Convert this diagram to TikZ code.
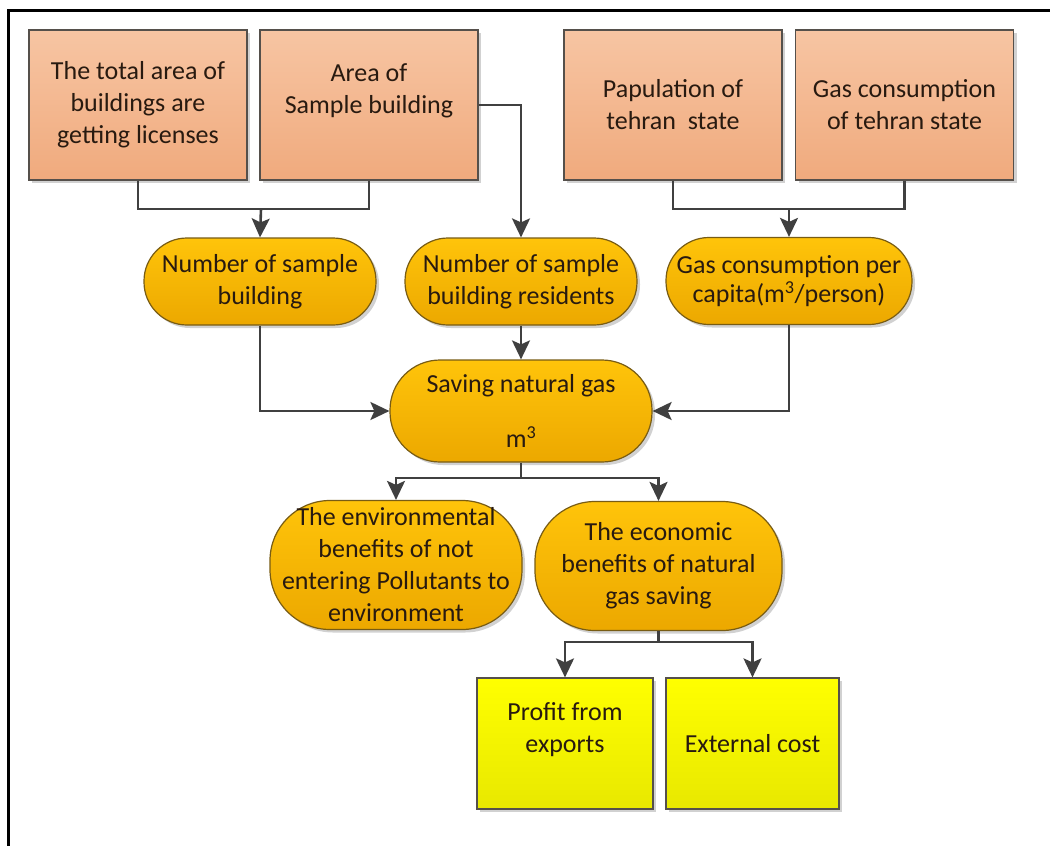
\documentclass[tikz,border=0pt]{standalone}
\usepackage{fontspec}
\setmainfont{Carlito}
\usetikzlibrary{arrows.meta,shadows}
\definecolor{salmonT}{RGB}{247,197,163}
\definecolor{salmonB}{RGB}{240,170,125}
\definecolor{goldT}{RGB}{255,196,10}
\definecolor{goldB}{RGB}{236,168,0}
\definecolor{yelT}{RGB}{255,255,0}
\definecolor{yelB}{RGB}{232,232,0}
\definecolor{boxline}{RGB}{85,80,75}
\definecolor{stadline}{RGB}{120,92,20}
\definecolor{conncol}{RGB}{64,64,64}
\definecolor{txt}{RGB}{40,26,16}
\tikzset{
  shad/.style={drop shadow={shadow xshift=3pt,shadow yshift=-3pt,opacity=0.18,fill=black}},
  basebox/.style={shad,line width=1.2pt,align=center,text=txt,inner sep=2pt,
    font=\fontsize{26}{32}\selectfont},
  inbox/.style={basebox,draw=boxline,top color=salmonT,bottom color=salmonB,
    minimum width=218pt,minimum height=150pt},
  stad/.style={basebox,draw=stadline,top color=goldT,bottom color=goldB,
    rounded corners=43pt,minimum height=87pt},
  bigstad/.style={basebox,draw=stadline,top color=goldT,bottom color=goldB,
    rounded corners=60pt,minimum height=129pt},
  outbox/.style={basebox,draw=boxline,top color=yelT,bottom color=yelB,
    minimum width=176pt,minimum height=131pt},
  conn/.style={draw=conncol,line width=2.6pt},
  arr/.style={conn,-{Stealth[length=19pt,width=18pt,inset=4pt]}}
}
\begin{document}
\begin{tikzpicture}[x=1pt,y=-1pt]
\useasboundingbox (0,0) rectangle (1050,846);
\draw[line width=3pt,black] (8,846) -- (8,10) -- (1050,10);

% top input boxes
\node[inbox] (b1) at (138,105) {The total area of\\buildings are\\getting licenses};
\node[inbox] (b2) at (369,105) {Area of\\Sample building\\\mbox{}};
\node[inbox] (b3) at (673,105) {Papulation of\\tehran\ \ state};
\node[inbox] (b4) at (904.5,105) {Gas consumption\\of tehran state};

% middle stadiums
\node[stad,minimum width=232pt] (n1) at (260,281.5) {Number of sample\\building};
\node[stad,minimum width=232pt] (n2) at (521,281.5) {Number of sample\\building residents};
\node[stad,minimum width=246pt] (n3) at (789,281) {Gas consumption per\\[-3pt]capita(m\textsuperscript{3}/person)};

% saving node
\node[stad,minimum width=262pt,minimum height=102pt,rounded corners=50pt] (sv) at (521,411) {Saving natural gas\\[23pt]m\textsuperscript{3}};

% benefits
\node[bigstad,minimum width=252pt] (en) at (396,565) {The environmental\\benefits of not\\entering Pollutants to\\environment};
\node[bigstad,minimum width=247pt] (ec) at (658.5,566) {The economic\\benefits of natural\\gas saving};

% outputs
\node[outbox] (pf) at (565,743.5) {Profit from\\exports\\\mbox{}};
\node[outbox,minimum width=173pt] (xc) at (752.5,743.5) {External cost};

% connectors
\coordinate (j1) at (261,209);
\draw[conn] (b1.south) |- (j1) -| (b2.south);
\draw[arr] (j1) -- (n1.north);

\draw[arr] (b2.east) -| (n2.north);

\coordinate (j2) at (789,209);
\draw[conn] (b3.south) |- (j2) -| (b4.south);
\draw[arr] (j2) -- (n3.north);

\draw[arr] (n1.south) |- (sv.west);
\draw[arr] (n3.south) |- (sv.east);
\draw[arr] (n2.south) -- (sv.north);

\coordinate (j3) at (521,478);
\draw[conn] (sv.south) -- (j3);
\draw[arr] (j3) -| (en.north);
\draw[arr] (j3) -| (ec.north);

\coordinate (j4) at (658.5,642);
\draw[conn] (ec.south) -- (j4);
\draw[arr] (j4) -| (pf.north);
\draw[arr] (j4) -| (xc.north);
\end{tikzpicture}
\end{document}
